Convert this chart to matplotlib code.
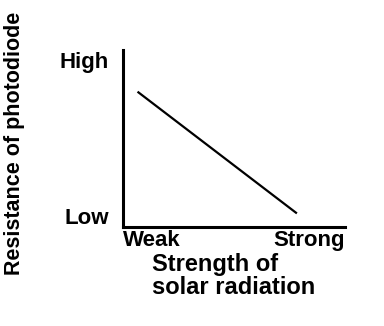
import matplotlib.pyplot as plt

# values (axes run 0..1)
strength = [0.07, 0.78]
resistance = [0.76, 0.08]
x_ticks = [0.13, 0.84]
x_labels = ['Weak', 'Strong']
y_ticks = [0.06, 0.94]
y_labels = ['Low', 'High']

plt.rcParams['font.family'] = ['Liberation Sans', 'DejaVu Sans']

fig = plt.figure(figsize=(3.84, 3.26), dpi=100)
ax = fig.add_axes([0.320, 0.304, 0.578, 0.543])
ax.plot(strength, resistance, color='black', lw=1.6)
ax.set_xlim(0, 1)
ax.set_ylim(0, 1)
for s in ['top', 'right']:
    ax.spines[s].set_visible(False)
for s in ['left', 'bottom']:
    ax.spines[s].set_linewidth(2.2)
ax.set_xticks(x_ticks)
ax.set_xticklabels(x_labels, fontsize=16, fontweight='bold')
ax.set_yticks(y_ticks)
ax.set_yticklabels(y_labels, fontsize=16, fontweight='bold')
ax.tick_params(length=0, pad=2)
ax.tick_params(axis='y', pad=10)
ax.set_xlabel('Strength of\nsolar radiation', fontsize=17, fontweight='bold',
              ha='left', x=0.13, multialignment='left', labelpad=2,
              linespacing=1.0)
fig.text(0.037, 0.56, 'Resistance of photodiode', rotation=90, fontsize=15.5,
         fontweight='bold', ha='center', va='center')
fig.savefig('out.png', dpi=100)
